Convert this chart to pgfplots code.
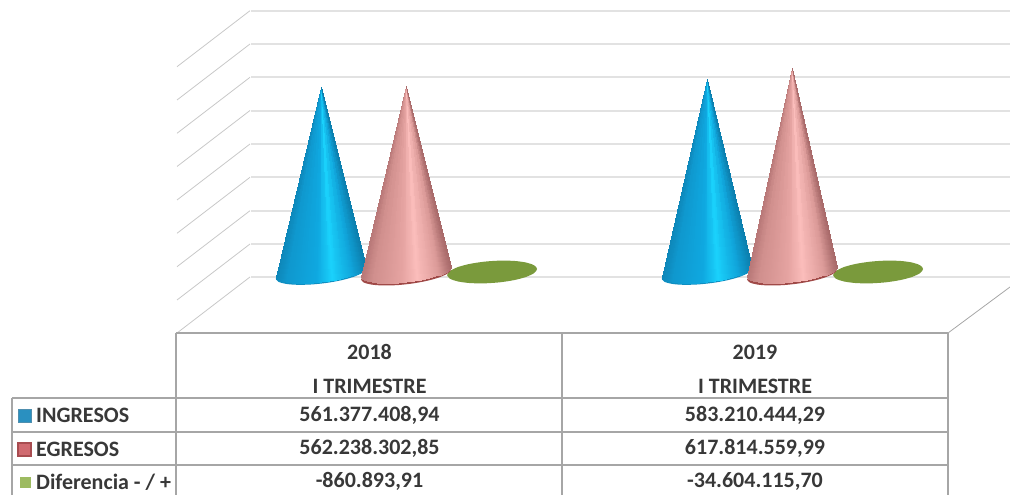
\documentclass[border=0pt]{standalone}
\usepackage{pgfplots}
\usepackage{pgfplotstable}
\usepackage{fontspec}
\pgfplotsset{compat=1.18}
\setmainfont{Carlito}
\definecolor{gridc}{HTML}{E2E2E2}
\definecolor{diagc}{HTML}{C8C8C8}
\definecolor{tabc}{HTML}{A6A6A6}
\definecolor{txt}{HTML}{383838}
\definecolor{lblue}{HTML}{2A90C0}
\definecolor{lbluee}{HTML}{4F8FAF}
\definecolor{lred}{HTML}{D06A70}
\definecolor{lredd}{HTML}{A84C50}
\definecolor{lgreen}{HTML}{9DBB61}
\definecolor{dgreen}{HTML}{7A9A3C}
\definecolor{rimr}{HTML}{A04A48}
\definecolor{rimb}{HTML}{0F8FC2}
\pgfplotsset{
  colormap={coneblue}{rgb255(0pt)=(14,134,184) rgb255(12pt)=(15,152,206) rgb255(45pt)=(15,168,224) rgb255(62pt)=(26,210,252) rgb255(85pt)=(16,164,218) rgb255(100pt)=(12,127,174)},
  colormap={conepink}{rgb255(0pt)=(184,120,120) rgb255(12pt)=(208,143,141) rgb255(45pt)=(229,163,161) rgb255(62pt)=(251,189,187) rgb255(85pt)=(221,156,154) rgb255(100pt)=(168,106,106)},
  base/.style={width=1010pt,height=495pt,scale only axis,hide axis,xmin=0,xmax=1010,clip=true},
}
% cone fan: one triangle (apex, base, base) per three rows. dx = px from centre, dy = base offset in millions, f = share of the value
\pgfplotstableread{
dx dy f m
0 0 1 .004
-45 -9 0 0
-44.3 -13.98 0 .008
0 0 1 .019
-44.3 -13.98 0 .008
-42.3 -18.36 0 .030
0 0 1 .048
-42.3 -18.36 0 .030
-39 -21.99 0 .067
0 0 1 .092
-39 -21.99 0 .067
-34.5 -24.77 0 .117
0 0 1 .148
-34.5 -24.77 0 .117
-28.9 -26.62 0 .179
0 0 1 .214
-28.9 -26.62 0 .179
-22.5 -27.48 0 .25
0 0 1 .290
-22.5 -27.48 0 .25
-15.4 -27.32 0 .329
0 0 1 .371
-15.4 -27.32 0 .329
-7.8 -26.14 0 .413
0 0 1 .457
-7.8 -26.14 0 .413
0 -24 0 .5
0 0 1 .544
0 -24 0 .5
7.8 -20.94 0 .587
0 0 1 .629
7.8 -20.94 0 .587
15.4 -17.06 0 .671
0 0 1 .710
15.4 -17.06 0 .671
22.5 -12.48 0 .75
0 0 1 .786
22.5 -12.48 0 .75
28.9 -7.34 0 .821
0 0 1 .852
28.9 -7.34 0 .821
34.5 -1.79 0 .883
0 0 1 .908
34.5 -1.79 0 .883
39 3.99 0 .933
0 0 1 .952
39 3.99 0 .933
42.3 9.84 0 .970
0 0 1 .981
42.3 9.84 0 .970
44.3 15.56 0 .992
0 0 1 .996
44.3 15.56 0 .992
45 21 0 1
}\fan
\pgfplotstableread{
dx dy
-45 -9
-42.3 -18.36
-34.5 -24.77
-22.5 -27.48
-7.8 -26.14
7.8 -20.94
22.5 -12.48
34.5 -1.79
42.3 9.84
45 21
42.3 30.36
34.5 36.77
22.5 39.48
7.8 38.14
-7.8 32.94
-22.5 24.48
-34.5 13.79
-42.3 2.16
}\discshape
\pgfplotstableread{
dx dy
-45 -3
-42.3 -13.75
-34.5 -22.11
-22.5 -27.08
-7.8 -28.07
7.8 -24.93
22.5 -18.08
34.5 -8.33
42.3 3.17
45 15
42.3 25.75
34.5 34.11
22.5 39.08
7.8 40.07
-7.8 36.93
-22.5 30.08
-34.5 20.33
-42.3 8.83
}\flatdisc
\newcommand\cone[3]{% centre x, value (millions), colormap
  \addplot[patch,patch type=triangle,shader=interp,colormap name=#3,point meta=\thisrow{m}]
    table[x expr=\thisrow{dx}+#1,y expr=\thisrow{dy}+\thisrow{f}*#2]{\fan};}
\newcommand\disc[3]{% centre x, lowering in millions, colour
  \addplot[draw=none,fill=#3,smooth] table[x expr=\thisrow{dx}+#1,y expr=\thisrow{dy}-#2]{\discshape} -- cycle;}
\newcommand\flatd[2]{% centre x, colour
  \addplot[draw=none,fill=#2,smooth] table[x expr=\thisrow{dx}+#1,y=dy]{\flatdisc} -- cycle;}
\newcommand\T[1]{{\bfseries\fontsize{22}{26}\selectfont\color{txt}#1}}
\begin{document}
\begin{tikzpicture}
% frame, walls, table: axis in reference pixels
\begin{axis}[base,name=frame,ymin=0,ymax=495,y dir=reverse]
\pgfplotsinvokeforeach{10.7,44,77.3,110.5,144,177.3,210.7,244,277}{
  \addplot[gridc,line width=2pt] coordinates {(251,#1) (1010,#1)};
}
\addplot[diagc,line width=.8pt] coordinates {(250,10.7) (177,66.7)};
\addplot[diagc,line width=.8pt] coordinates {(250,44) (177,100)};
\addplot[diagc,line width=.8pt] coordinates {(250,77.3) (177,133.3)};
\addplot[diagc,line width=.8pt] coordinates {(250,110.5) (177,166.5)};
\addplot[diagc,line width=.8pt] coordinates {(250,144) (177,200)};
\addplot[diagc,line width=.8pt] coordinates {(250,177.3) (177,233.3)};
\addplot[diagc,line width=.8pt] coordinates {(250,210.7) (177,266.7)};
\addplot[diagc,line width=.8pt] coordinates {(250,244) (177,300)};
\addplot[diagc,line width=.8pt] coordinates {(250,277) (177,333)};
\addplot[tabc,line width=.8pt] coordinates {(948,333) (1010,287)};
\addplot[tabc,line width=1.4pt] coordinates {(176,333) (948,333)};
\addplot[tabc,line width=1.4pt] coordinates {(12,398) (948,398)};
\addplot[tabc,line width=1.4pt] coordinates {(12,432) (948,432)};
\addplot[tabc,line width=1.4pt] coordinates {(12,465) (948,465)};
\addplot[tabc,line width=1.4pt] coordinates {(12,398) (12,495)};
\addplot[tabc,line width=1.4pt] coordinates {(176,333) (176,495)};
\addplot[tabc,line width=1.4pt] coordinates {(562,333) (562,495)};
\addplot[tabc,line width=1.4pt] coordinates {(948,333) (948,495)};
\addplot[fill=lblue,draw=lbluee,line width=1pt] coordinates {(18,409) (31,409) (31,422) (18,422)} -- cycle;
\addplot[fill=lred,draw=lredd,line width=1.6pt] coordinates {(18,443) (31,443) (31,456) (18,456)} -- cycle;
\addplot[fill=lgreen,draw=none] coordinates {(20,477) (31,477) (31,488) (20,488)} -- cycle;
\node[anchor=center] at (axis cs:369.5,352) {\T{2018}};
\node[anchor=center] at (axis cs:369.5,386) {\T{I TRIMESTRE}};
\node[anchor=center] at (axis cs:755,352) {\T{2019}};
\node[anchor=center] at (axis cs:755,386) {\T{I TRIMESTRE}};
\node[anchor=center] at (axis cs:369.5,415) {\T{561.377.408,94}};
\node[anchor=center] at (axis cs:755,415) {\T{583.210.444,29}};
\node[anchor=center] at (axis cs:369.5,448) {\T{562.238.302,85}};
\node[anchor=center] at (axis cs:755,448) {\T{617.814.559,99}};
\node[anchor=center] at (axis cs:369.5,481) {\T{-860.893,91}};
\node[anchor=center] at (axis cs:755,481) {\T{-34.604.115,70}};
\node[anchor=west,inner sep=0pt] at (axis cs:36,415) {\T{INGRESOS}};
\node[anchor=west,inner sep=0pt] at (axis cs:36,449) {\T{EGRESOS}};
\node[anchor=west,inner sep=0pt] at (axis cs:36,482) {\T{Diferencia - / +}};
\end{axis}
% cones: y in millions of the table's values, with 0 at the base
\begin{axis}[base,at={(frame.south west)},anchor=south west,ymin=-662.67,ymax=821.6,point meta min=0,point meta max=1]
\disc{320.7}{5}{rimb}
\cone{320.7}{561.377}{coneblue}
\flatd{492}{dgreen}
\disc{406}{7}{rimr}
\cone{406}{562.238}{conepink}
\disc{706.7}{5}{rimb}
\cone{706.7}{583.21}{coneblue}
\flatd{878}{dgreen}
\disc{792}{7}{rimr}
\cone{792}{617.815}{conepink}
\end{axis}
\path (frame.south west) rectangle (frame.north east);
\end{tikzpicture}
\end{document}
